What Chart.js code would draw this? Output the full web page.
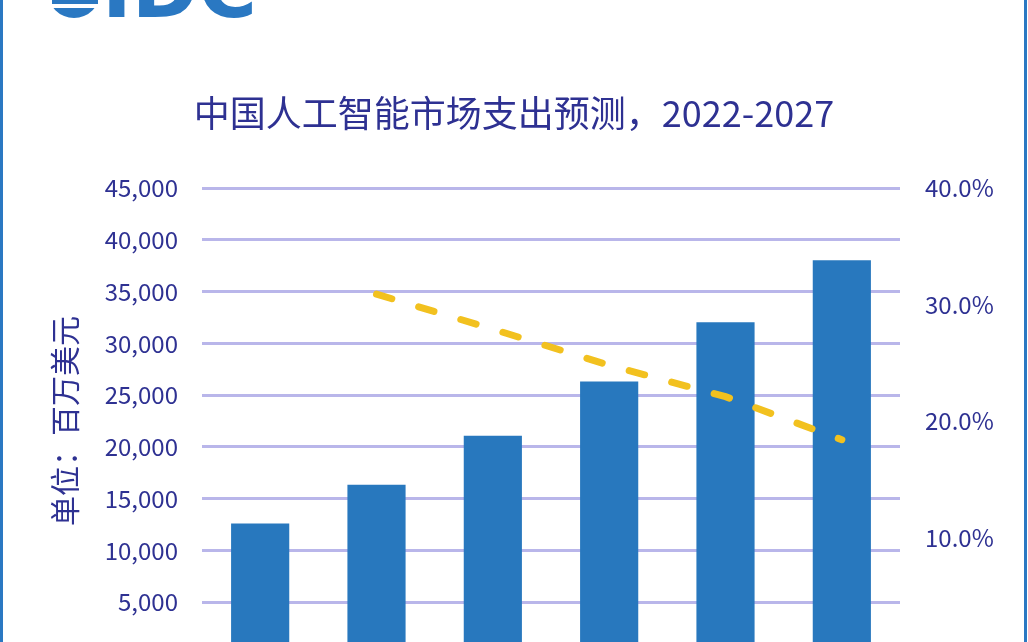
<!DOCTYPE html>
<html>
<head>
<meta charset="utf-8">
<script src="https://cdn.jsdelivr.net/npm/chart.js@4"></script>
<style>
    html, body { margin: 0; padding: 0; background: #ffffff; overflow: hidden; }
    #wrap { position: absolute; left: 0; top: 0; width: 1028px; height: 720px; }
    .frame { position: absolute; top: 0; width: 3px; height: 642px; background: #2a78c2; }
</style>
</head>
<body>
<div id="wrap"><canvas id="chart" width="1028" height="720"></canvas></div>
<div class="frame" style="left:0"></div>
<div class="frame" style="left:1024px"></div>
<script>
const years = ['2022', '2023', '2024', '2025', '2026', '2027'];
const spending = [12600, 16350, 21080, 26320, 32050, 38030];
const growth = [null, 30.9, 27.9, 24.8, 22.1, 18.4];

const navy = '#2e3192';
const gridColor = '#b9b6ea';

// partial IDC logo cut off at the top edge
const logoPlugin = {
    id: 'logo',
    beforeDraw(chart) {
        const ctx = chart.ctx;
        ctx.save();
        ctx.fillStyle = '#2a78c2';
        ctx.fillRect(52, 0, 46, 4);
        ctx.beginPath();
        ctx.rect(40, 8, 70, 20);
        ctx.clip();
        ctx.beginPath();
        ctx.arc(74, -8, 26, 0, Math.PI * 2);
        ctx.fill();
        ctx.restore();
        ctx.save();
        ctx.fillStyle = '#2a78c2';
        ctx.font = 'bold 80px "DejaVu Sans"';
        ctx.textBaseline = 'alphabetic';
        ctx.fillText('IDC', 102, 17);
        ctx.restore();
    }
};

const ctx = document.getElementById('chart');
new Chart(ctx, {
    type: 'bar',
    data: {
        labels: years,
        datasets: [
            {
                type: 'line',
                label: '增长率',
                data: growth,
                yAxisID: 'y1',
                borderColor: '#f2c11f',
                borderWidth: 7,
                borderDash: [16, 28],
                borderCapStyle: 'round',
                pointRadius: 0,
                fill: false,
                order: 0
            },
            {
                label: '支出',
                data: spending,
                yAxisID: 'y',
                backgroundColor: '#2878be',
                barPercentage: 0.5,
                categoryPercentage: 1.0,
                order: 1
            }
        ]
    },
    options: {
        responsive: false,
        animation: false,
        layout: { padding: 0 },
        plugins: {
            legend: { display: false },
            tooltip: { enabled: false },
            title: {
                display: true,
                text: '中国人工智能市场支出预测，2022-2027',
                color: navy,
                font: { family: '"Noto Sans CJK SC"', size: 36, weight: 'normal' },
                padding: { top: 92, bottom: 53 }
            }
        },
        scales: {
            x: {
                grid: { display: false },
                border: { display: false },
                ticks: { color: navy, font: { family: '"Noto Sans CJK SC"', size: 24 } },
                afterFit(scale) { scale.height = 66; }
            },
            y: {
                position: 'left',
                min: 0,
                max: 45000,
                grid: { color: gridColor, lineWidth: 3, drawTicks: false },
                border: { display: false },
                ticks: {
                    stepSize: 5000,
                    padding: 24,
                    color: navy,
                    font: { family: '"Noto Sans CJK SC"', size: 24 },
                    callback: v => v.toLocaleString('en-US')
                },
                title: {
                    display: true,
                    text: '单位：百万美元',
                    color: navy,
                    font: { family: '"Noto Sans CJK SC"', size: 30 },
                    padding: { top: 47, bottom: 0 }
                },
                afterFit(scale) { scale.width = 202; }
            },
            y1: {
                position: 'right',
                min: 0,
                max: 40,
                grid: { display: false, drawTicks: false },
                border: { display: false },
                ticks: {
                    stepSize: 10,
                    padding: 25,
                    color: navy,
                    font: { family: '"Noto Sans CJK SC"', size: 24 },
                    callback: v => v.toFixed(1) + '%'
                },
                afterFit(scale) { scale.width = 128; }
            }
        }
    },
    plugins: [logoPlugin]
});
</script>
</body>
</html>
